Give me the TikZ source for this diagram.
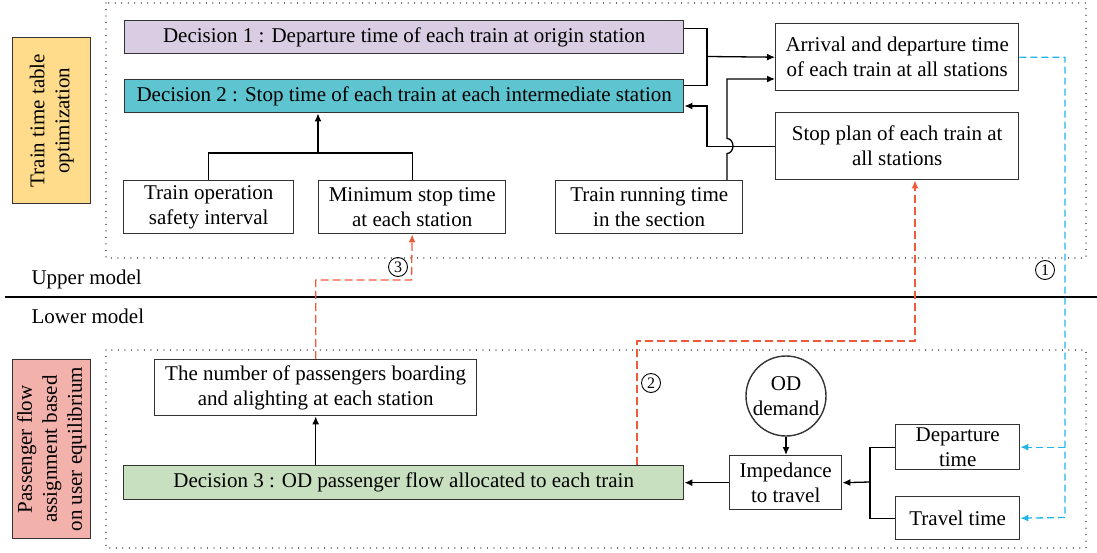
\documentclass[tikz,border=0pt]{standalone}
\usepackage{fontspec}
\setmainfont{Liberation Serif}
\usetikzlibrary{arrows.meta,calc}
\definecolor{lav}{HTML}{D9CDE3}
\definecolor{tealc}{HTML}{5EC5D0}
\definecolor{greenc}{HTML}{C8E0BF}
\definecolor{yell}{HTML}{FFDB8C}
\definecolor{pinkc}{HTML}{F3B1AC}
\definecolor{blued}{HTML}{1FB5EA}
\definecolor{redd}{HTML}{F05A3C}
\definecolor{edge}{HTML}{333333}
\begin{document}
\begin{tikzpicture}[x=1pt,y=-1pt,
  every node/.style={font=\fontsize{21}{25}\selectfont},
  box/.style={draw=edge, line width=1.4pt, anchor=north west, inner sep=1pt, align=center},
  sidebox/.style={draw=edge, line width=1.4pt, anchor=north west, inner sep=1pt},
  conn/.style={line width=1.3pt, black},
  arrowline/.style={conn, -{Latex[length=8pt,width=7pt]}},
  bluedash/.style={line width=1.3pt, blued, dash pattern=on 7pt off 4pt, -{Latex[length=8pt,width=7pt]}},
  reddash/.style={line width=1.3pt, redd, dash pattern=on 8pt off 4pt, -{Latex[length=8pt,width=7pt]}},
  dotbox/.style={draw=black!70, line width=1.2pt, dash pattern=on 0.01pt off 6.5pt, line cap=round},
  numc/.style={circle, draw, line width=0.9pt, inner sep=0pt, minimum size=19pt, font=\fontsize{16}{16}\selectfont}
]
\useasboundingbox (0,0) rectangle (1097,553);

% dotted frames
\draw[dotbox] (106,3) rectangle (1086,258);
\draw[dotbox] (106,350) rectangle (1086,548);

% side labels
\node[sidebox, fill=yell, minimum width=78pt, minimum height=166pt] (yl) at (12,37) {};
\node[rotate=90, align=center] (ylt) at (yl.center) {Train time table\\optimization};
\node[sidebox, fill=pinkc, minimum width=78pt, minimum height=179pt] (pk) at (12,359) {};
\node[rotate=90, align=center] (pkt) at (pk.center) {Passenger flow\\assignment based\\on user equilibrium};

% separator
\draw[line width=1.2pt] (5,297) coordinate (s1) -- (1097,297) coordinate (s2);
\node[anchor=west] (um) at (28,279) {Upper model};
\node[anchor=west] (lm) at (28,316) {Lower model};

% upper nodes
\node[box, fill=lav, minimum width=559pt, minimum height=33pt] (d1) at (124,20) {Decision 1 : Departure time of each train at origin station};
\node[box, fill=tealc, minimum width=559pt, minimum height=33pt] (d2) at (124,79) {Decision 2 : Stop time of each train at each intermediate station};
\node[box, minimum width=170pt, minimum height=53pt] (top) at (123,180) {Train operation\\safety interval};
\node[box, minimum width=187pt, minimum height=53pt] (mst) at (318,180) {Minimum stop time\\at each station};
\node[box, minimum width=187pt, minimum height=53pt] (trt) at (555,180) {Train running time\\in the section};
\node[box, minimum width=243pt, minimum height=67pt] (ad) at (775,23) {Arrival and departure time\\of each train at all stations};
\node[box, minimum width=243pt, minimum height=67pt] (sp) at (775,112) {Stop plan of each train at\\all stations};

% lower nodes
\node[box, minimum width=322pt, minimum height=56pt] (num) at (154,359) {The number of passengers boarding\\and alighting at each station};
\node[box, fill=greenc, minimum width=560pt, minimum height=34pt] (d3) at (123,465) {Decision 3 : OD passenger flow allocated to each train};
\node[draw=edge, line width=1.4pt, circle, minimum size=80pt, inner sep=0pt, align=center] (od) at (786,396) {OD\\demand};
\node[box, minimum width=112pt, minimum height=54pt] (imp) at (729,455) {Impedance\\to travel};
\node[box, minimum width=124pt, minimum height=45pt] (dep) at (895,424) {Departure\\time};
\node[box, minimum width=124pt, minimum height=43pt] (tt) at (895,496) {Travel time};

% upper connectors
\coordinate (jx) at (707,56.5);
\draw[conn] ([yshift=8.5pt]d1.east) -| (jx) |- ([yshift=10.5pt]d2.east);
\draw[arrowline] (jx) -- (ad.west);
\coordinate (jy) at (707,106);
\draw[arrowline] (sp.west) -| (jy) -- (jy -| d2.east);
\coordinate (tb) at (727,180);
\draw[arrowline] (tb) -- (727,153.5) arc[start angle=-90, end angle=90, x radius=6pt, y radius=7.5pt] -- (727,79) -- (ad.west |- 0,79);
\coordinate (jm) at (318,153);
\draw[conn] (top.north) |- (mst.north |- jm) -- (mst.north);
\draw[arrowline] (jm) -- (jm |- d2.south);

% lower connectors
\draw[arrowline] (num.south |- d3.north) -- (num.south);
\draw[arrowline] (od.south) -- (od.south |- imp.north);
\draw[arrowline] (imp.west) -- (imp.west -| d3.east);
\coordinate (jt) at (870,482);
\draw[conn] (dep.west) -| (jt |- tt.west) -- (tt.west);
\draw[arrowline] (jt) -- (imp.east);

% dashed feedback
\coordinate (bb) at (1065,517.5);
\draw[bluedash] (ad.east) -| (bb) -- (tt.east);
\draw[bluedash] (bb |- dep.east) -- (dep.east);
\coordinate (r3) at (411.5,280);
\draw[reddash] (num.north) |- (r3) -- (mst.south);
\coordinate (r2) at (915,341);
\draw[reddash] (637,465) |- (r2) -- (r2 |- sp.south);

% circled labels
\node[numc] (c1) at (1045,270) {1};
\node[numc] (c2) at (651,383) {2};
\node[numc] (c3) at (398,267) {3};
\end{tikzpicture}
\end{document}
